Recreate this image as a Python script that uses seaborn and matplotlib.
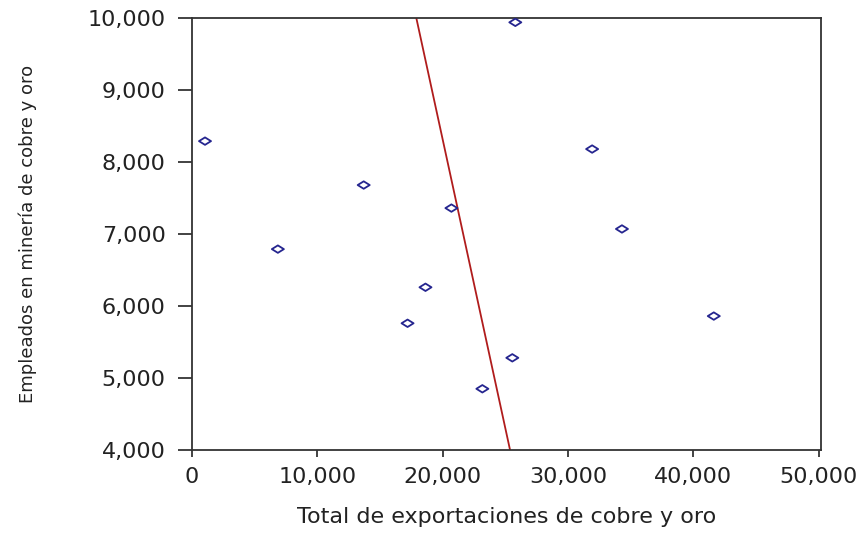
import numpy as np
import seaborn as sns
import matplotlib.pyplot as plt
from matplotlib.path import Path
from matplotlib.ticker import FuncFormatter

# exports (x) vs employees (y)
exportaciones = [1035, 6850, 13700, 20700, 18630, 17200, 23170, 25560, 25800, 31930, 34310, 41640]
empleados = [8290, 6790, 7680, 7360, 6260, 5760, 4850, 5280, 9940, 8180, 7070, 5860]

x_ticks = [0, 10000, 20000, 30000, 40000, 50000]
y_ticks = [4000, 5000, 6000, 7000, 8000, 9000, 10000]

sns.set_style("ticks")
plt.rcParams['font.family'] = ['DejaVu Sans']

fig = plt.figure(figsize=(8.67, 5.38), dpi=100)
ax = fig.add_axes([0.2215, 0.1636, 0.7255, 0.8029])

# flat diamond like the original markers
diamond = Path([(-1, 0), (0, 0.62), (1, 0), (0, -0.62), (-1, 0)],
               [Path.MOVETO, Path.LINETO, Path.LINETO, Path.LINETO, Path.CLOSEPOLY])

sns.scatterplot(x=exportaciones, y=empleados, marker=diamond, s=75,
                facecolor='none', edgecolor='#25258f', linewidth=1.3, ax=ax, zorder=3)

# fit line (exports regressed on employees)
b, a = np.polyfit(empleados, exportaciones, 1)
yy = np.array([y_ticks[0], y_ticks[-1]])
ax.plot(a + b * yy, yy, color='#b01c1c', lw=1.3, zorder=2)

ax.set_xlim(0, 50200)
ax.set_ylim(4000, 10000)
ax.set_xticks(x_ticks)
ax.set_yticks(y_ticks)
fmt = FuncFormatter(lambda v, p: '{:,.0f}'.format(v))
ax.xaxis.set_major_formatter(fmt)
ax.yaxis.set_major_formatter(fmt)

ax.tick_params(axis='x', length=5, width=1.2, pad=7, labelsize=16, colors='#222222')
ax.tick_params(axis='y', length=10, width=1.2, pad=9, labelsize=16, colors='#222222')
for sp in ax.spines.values():
    sp.set_linewidth(1.3)
    sp.set_color('#333333')

ax.set_xlabel('Total de exportaciones de cobre y oro', fontsize=16, color='#222222', labelpad=15)
ax.set_ylabel('Empleados en minería de cobre y oro', fontsize=13, color='#222222')
ax.yaxis.set_label_coords(-0.247, 0.5)

fig.savefig('out.png', dpi=100)
